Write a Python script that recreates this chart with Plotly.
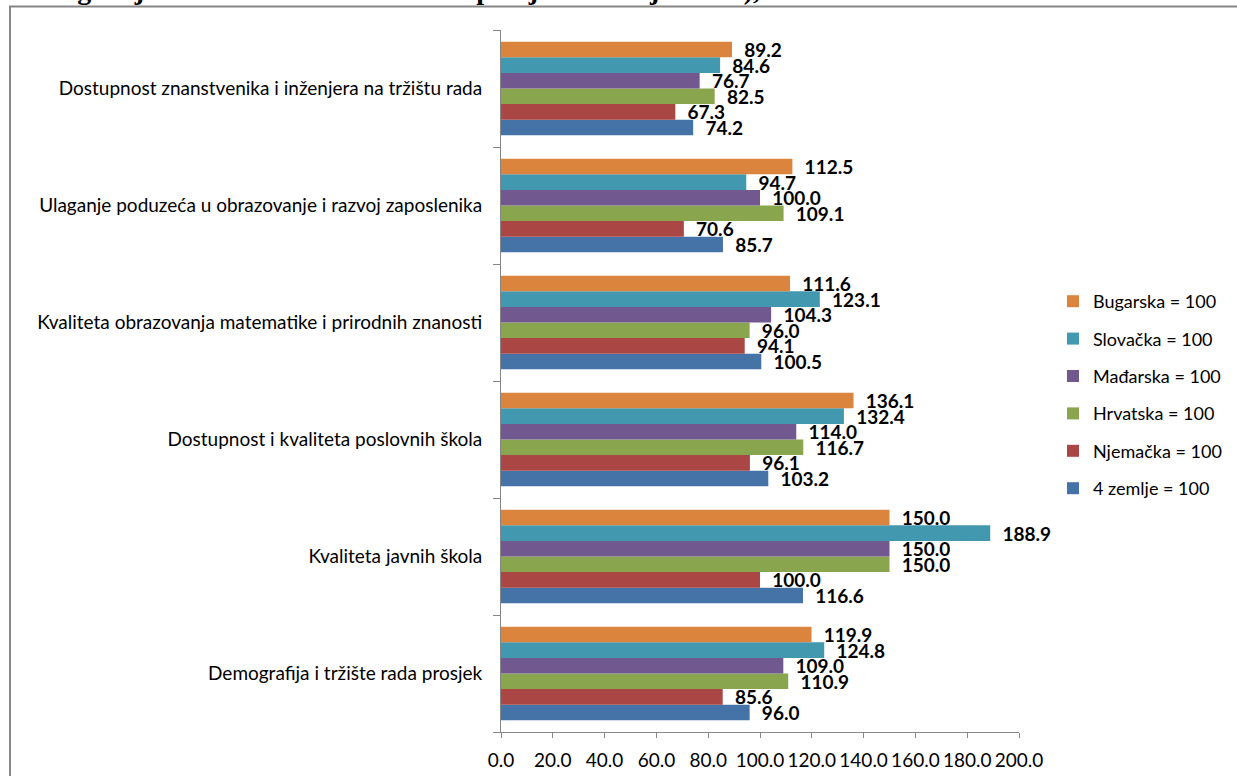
import plotly.graph_objects as go

# categories listed bottom -> top
categories = [
    "Demografija i tržište rada prosjek",
    "Kvaliteta javnih škola",
    "Dostupnost i kvaliteta poslovnih škola",
    "Kvaliteta obrazovanja matematike i prirodnih znanosti",
    "Ulaganje poduzeća u obrazovanje i razvoj zaposlenika",
    "Dostupnost znanstvenika i inženjera na tržištu rada",
]

zemlje4 = [96.0, 116.6, 103.2, 100.5, 85.7, 74.2]
njemacka = [85.6, 100.0, 96.1, 94.1, 70.6, 67.3]
hrvatska = [110.9, 150.0, 116.7, 96.0, 109.1, 82.5]
madarska = [109.0, 150.0, 114.0, 104.3, 100.0, 76.7]
slovacka = [124.8, 188.9, 132.4, 123.1, 94.7, 84.6]
bugarska = [119.9, 150.0, 136.1, 111.6, 112.5, 89.2]

series_names = ["4 zemlje = 100", "Njemačka = 100", "Hrvatska = 100",
                "Mađarska = 100", "Slovačka = 100", "Bugarska = 100"]
series_values = [zemlje4, njemacka, hrvatska, madarska, slovacka, bugarska]
colors = ["#4572A7", "#AA4643", "#89A54E", "#71588F", "#4198AF", "#DB843D"]

x_ticks = [0, 20, 40, 60, 80, 100, 120, 140, 160, 180, 200]
x_ticklabels = ["%.1f" % v for v in x_ticks]

title_text = "demografija i tržište rada u odnosu na prosjek 4 zemlje = 100),"

FONT = "Lato"

W, H = 1237, 776
L = 501
T = 30
pw = 518
ph = 702
R = W - L - pw
B = H - T - ph

def px_to_paper_x(px):
    return (px - L) / pw

def px_to_paper_y(py):
    return (T + ph - py) / ph

fig = go.Figure()
n = len(series_names)
for i, (name, vals, col) in enumerate(zip(series_names, series_values, colors)):
    fig.add_trace(go.Bar(
        y=categories, x=vals, name=name, orientation="h",
        marker=dict(color=col, line=dict(width=0)),
        texttemplate="&nbsp;&nbsp;%{x:.1f}",
        textposition="outside",
        constraintext="none",
        cliponaxis=False,
        textfont=dict(family=FONT, size=19, color="#000000", weight="bold"),
        legendgroup="g%d" % i,
        legendrank=n - i,
        hoverinfo="x+name",
    ))

fig.update_layout(
    width=W, height=H,
    margin=dict(l=L, r=R, t=T, b=B, pad=0, autoexpand=False),
    paper_bgcolor="white", plot_bgcolor="white",
    barmode="group", bargap=0.2, bargroupgap=0,
    font=dict(family=FONT, size=18, color="#000000"),
    showlegend=True,
    legend=dict(
        traceorder="grouped",
        x=px_to_paper_x(1053), xanchor="left",
        y=px_to_paper_y(395), yanchor="middle",
        font=dict(family=FONT, size=18, color="#000000"),
        tracegroupgap=11,
        itemwidth=30,
        bgcolor="rgba(0,0,0,0)",
    ),
    xaxis=dict(
        range=[0, 200], tickvals=x_ticks, ticktext=x_ticklabels,
        showgrid=False, zeroline=False, automargin=False,
        showline=True, linecolor="#868686", linewidth=1,
        ticks="outside", ticklen=5, tickcolor="#868686",
        ticklabelstandoff=6,
        tickfont=dict(family=FONT, size=19, color="#000000"),
        fixedrange=True,
    ),
    yaxis=dict(
        type="category", categoryorder="array", categoryarray=categories,
        showgrid=False, zeroline=False, automargin=False,
        showline=True, linecolor="#868686", linewidth=1,
        ticks="outside", ticklen=7, tickcolor="#868686",
        tickson="boundaries",
        ticklabelstandoff=14,
        tickfont=dict(family=FONT, size=19, color="#000000"),
        fixedrange=True,
    ),
    shapes=[dict(
        type="rect", xref="paper", yref="paper",
        x0=px_to_paper_x(10), x1=px_to_paper_x(1300),
        y0=px_to_paper_y(850), y1=px_to_paper_y(6.5),
        line=dict(color="#868686", width=2), fillcolor="rgba(0,0,0,0)",
        layer="below",
    )],
    annotations=[dict(
        text=title_text, xref="paper", yref="paper",
        x=px_to_paper_x(10), xanchor="left",
        y=px_to_paper_y(7), yanchor="bottom",
        showarrow=False,
        font=dict(family="Liberation Serif", size=28, color="#000000", weight="bold"),
    )],
)

fig.write_html("out.html", config={"displayModeBar": False},
               post_script="document.body.style.margin='0';")
